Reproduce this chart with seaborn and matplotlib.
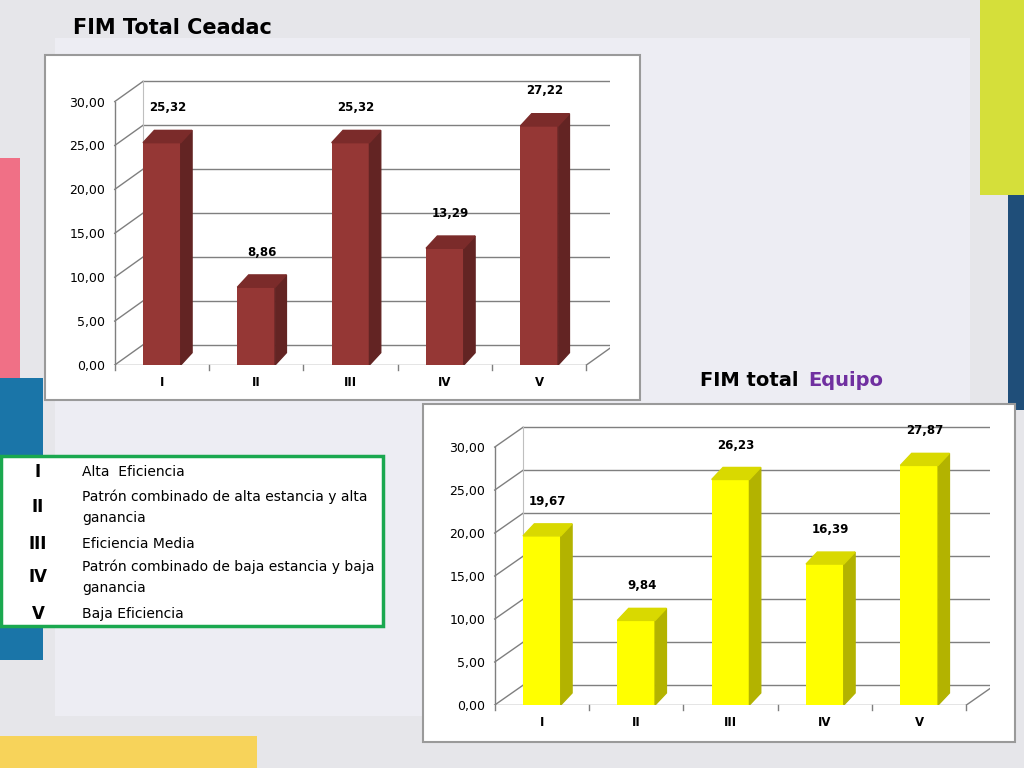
import matplotlib.pyplot as plt
import matplotlib.patches as mpatches
import pandas as pd
import seaborn as sns

categories = ["I", "II", "III", "IV", "V"]
ceadac_values = [25.32, 8.86, 25.32, 13.29, 27.22]
equipo_values = [19.67, 9.84, 26.23, 16.39, 27.87]
y_ticks = [0, 5, 10, 15, 20, 25, 30]
legend_rows = [
    ("I", "Alta  Eficiencia"),
    ("II", "Patrón combinado de alta estancia y alta\nganancia"),
    ("III", "Eficiencia Media"),
    ("IV", "Patrón combinado de baja estancia y baja\nganancia"),
    ("V", "Baja Eficiencia"),
]


def fmt(v):
    return f"{v:.2f}".replace(".", ",")


def draw_3d_bars(ax, values, face, side, top):
    df = pd.DataFrame({"cat": categories, "val": values})
    # perspective walls
    wx, wy = 0.3, 2.3
    for t in y_ticks:
        ax.plot([-0.5, -0.5 + wx], [t, t + wy], color="#7f7f7f", lw=1, zorder=0)
        if t > 0:
            ax.plot([-0.5 + wx, 4.5 + wx], [t + wy, t + wy], color="#7f7f7f", lw=1, zorder=0)
    ax.plot([-0.5, 4.5], [0, 0], color="#7f7f7f", lw=1, zorder=0)
    ax.plot([-0.5 + wx, 4.5 + wx], [wy, wy], color="#7f7f7f", lw=1, zorder=0)
    ax.plot([4.5, 4.5 + wx], [0, wy], color="#7f7f7f", lw=1, zorder=0)
    ax.plot([-0.5, -0.5], [0, 30], color="#7f7f7f", lw=1, zorder=0)
    ax.plot([-0.5 + wx, -0.5 + wx], [wy, 30 + wy], color="#bfbfbf", lw=0.8, zorder=0)
    for i in range(6):
        ax.plot([i - 0.5, i - 0.5], [0, -0.6], color="#7f7f7f", lw=1, clip_on=False)

    sns.barplot(data=df, x="cat", y="val", color=face, width=0.4, saturation=1, ax=ax, zorder=3)
    dx, dy = 0.12, 1.4
    for bar, v in zip(ax.patches, values):
        x0 = bar.get_x()
        x1 = x0 + bar.get_width()
        h = bar.get_height()
        ax.add_patch(mpatches.Polygon([(x1, 0), (x1 + dx, dy), (x1 + dx, h + dy), (x1, h)],
                                      color=side, zorder=3))
        ax.add_patch(mpatches.Polygon([(x0, h), (x0 + dx, h + dy), (x1 + dx, h + dy), (x1, h)],
                                      color=top, zorder=3))
        ax.text(x0 + bar.get_width() / 2 + dx / 2, h + dy + 2.2, fmt(v), ha="center",
                fontsize=8.5, fontweight="bold")
    ax.set_xlim(-0.55, 4.75)
    ax.set_ylim(0, 32.8)
    ax.set_yticks(y_ticks)
    ax.set_yticklabels([fmt(t) for t in y_ticks], fontsize=9)
    ax.tick_params(axis="x", length=0, labelsize=8.5, pad=8)
    ax.tick_params(axis="y", length=0)
    for lbl in ax.get_xticklabels():
        lbl.set_fontweight("bold")
    ax.set_xlabel("")
    ax.set_ylabel("")
    for s in ax.spines.values():
        s.set_visible(False)
    ax.patch.set_alpha(0)


fig = plt.figure(figsize=(10.24, 7.68), dpi=100)
fig.patch.set_facecolor("#e6e6ea")


def frect(x, y, w, h, color, ec="none", lw=0):
    # x, y in pixels from top-left
    fig.patches.append(mpatches.Rectangle((x / 1024, 1 - (y + h) / 768), w / 1024, h / 768,
                                          transform=fig.transFigure, facecolor=color,
                                          edgecolor=ec, lw=lw, zorder=-5))


frect(55, 38, 915, 678, "#ededf3")
frect(980, 0, 44, 195, "#d5df3a")
frect(1008, 195, 16, 215, "#1f4e79")
frect(0, 158, 20, 220, "#f07086")
frect(0, 378, 43, 282, "#1a75a8")
frect(0, 736, 257, 32, "#f7d35a")
frect(45, 55, 595, 345, "white", "#9a9a9a", 1.5)
frect(423, 404, 592, 338, "white", "#9a9a9a", 1.5)
frect(1, 456, 382, 170, "white", "#1aa84f", 2.5)

fig.text(73 / 1024, 1 - 28 / 768, "FIM Total Ceadac", fontsize=15, fontweight="bold", va="center")
fig.text(700 / 1024, 1 - 380 / 768, "FIM total ", fontsize=14, fontweight="bold", va="center")
fig.text(808 / 1024, 1 - 380 / 768, "Equipo", fontsize=14, fontweight="bold", va="center",
         color="#7030a0")

row_y = [472, 507, 544, 577, 614]
for (num, desc), y in zip(legend_rows, row_y):
    fig.text(38 / 1024, 1 - y / 768, num, fontsize=12, fontweight="bold", ha="center",
             va="center")
    fig.text(82 / 1024, 1 - y / 768, desc, fontsize=10, va="center", linespacing=1.6)

ax1 = fig.add_axes([110 / 1024, 1 - 365 / 768, 500 / 1024, 288 / 768], zorder=2)
draw_3d_bars(ax1, ceadac_values, "#953735", "#632423", "#7b2b2a")

ax2 = fig.add_axes([490 / 1024, 1 - 705 / 768, 500 / 1024, 282 / 768], zorder=2)
draw_3d_bars(ax2, equipo_values, "#ffff00", "#b3b300", "#d9d900")

fig.savefig("out.png", dpi=100, facecolor=fig.get_facecolor())
